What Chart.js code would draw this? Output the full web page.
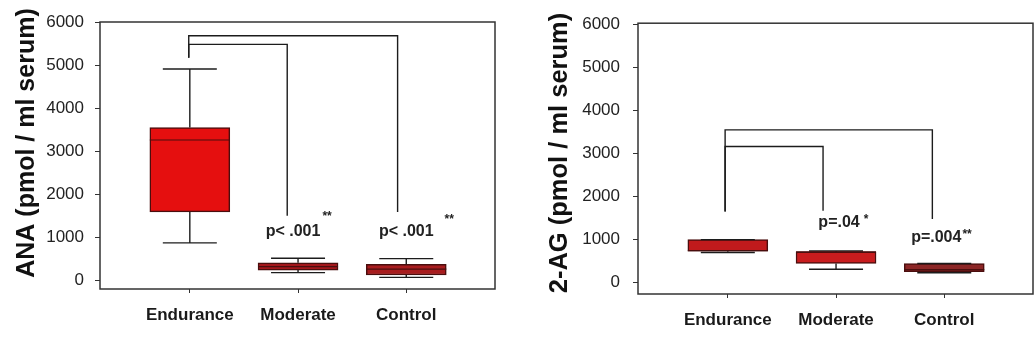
<!DOCTYPE html>
<html>
<head>
<meta charset="utf-8">
<script src="https://cdn.jsdelivr.net/npm/chart.js@4.4.1/dist/chart.umd.min.js"></script>
<style>
  html, body { margin: 0; padding: 0; background: #fff; }
  #wrap { position: relative; width: 1035px; height: 345px; }
  .panel { position: absolute; top: 0; height: 345px; }
  #left { left: 0; width: 517px; }
  #right { left: 517px; width: 518px; }
</style>
</head>
<body>
<div id="wrap">
  <div class="panel" id="left"><canvas id="anaChart"></canvas></div>
  <div class="panel" id="right"><canvas id="agChart"></canvas></div>
</div>
<script>
const groups = ["Endurance", "Moderate", "Control"];
const groupPos = [1, 2, 3];
const yTicks = [0, 1000, 2000, 3000, 4000, 5000, 6000];

// ANA (pmol / ml serum)
const anaLow = [870, 180, 70];
const anaQ1 = [1590, 240, 125];
const anaMedian = [3260, 320, 260];
const anaQ3 = [3550, 410, 375];
const anaHigh = [4910, 515, 505];
const anaPValues = ["", "p< .001", "p< .001"];
const anaStars = ["", "**", "**"];
// comparison brackets (Endurance vs Control, Endurance vs Moderate)
const anaBracketTop = [5680, 5480];
const anaBracketTo = [2.92, 1.9];
const anaBracketEnd = [1590, 1500];
const anaBracketFrom = 0.99;
const anaBracketStart = 5170;

// 2-AG (pmol / ml serum)
const agLow = [700, 310, 230];
const agQ1 = [730, 445, 255];
const agMedian = [740, 715, 300];
const agQ3 = [1000, 715, 445];
const agHigh = [1000, 735, 445];
const agPValues = ["", "p=.04", "p=.004"];
const agStars = ["", "*", "**"];
const agBracketTop = [3550, 3165];
const agBracketTo = [2.89, 1.88];
const agBracketEnd = [1480, 1670];
const agBracketFrom = 0.975;
const agBracketStart = 1650;

Chart.defaults.font.family = "'Liberation Sans', Arial, sans-serif";
Chart.defaults.color = "#222";

function seg(ctx, x1, y1, x2, y2) {
  ctx.beginPath();
  ctx.moveTo(x1, y1);
  ctx.lineTo(x2, y2);
  ctx.stroke();
}

// whiskers, medians, frame, axis title and p-value labels
function makeExtras(cfg) {
  return {
    id: "boxExtras",
    afterDatasetsDraw(chart) {
      const { ctx, chartArea: a, scales: { x, y } } = chart;
      ctx.save();
      ctx.strokeStyle = "#1c1c1c";
      ctx.lineWidth = 1.4;
      groupPos.forEach((g, i) => {
        const px = x.getPixelForValue(g);
        const lo = y.getPixelForValue(cfg.low[i]);
        const hi = y.getPixelForValue(cfg.high[i]);
        const q1 = y.getPixelForValue(cfg.q1[i]);
        const q3 = y.getPixelForValue(cfg.q3[i]);
        const md = y.getPixelForValue(cfg.median[i]);
        seg(ctx, px, q1, px, lo);
        seg(ctx, px - 27, lo, px + 27, lo);
        seg(ctx, px, q3, px, hi);
        seg(ctx, px - 27, hi, px + 27, hi);
        ctx.strokeStyle = "#4a0e0e";
        ctx.lineWidth = 1.2;
        seg(ctx, px - 40, md, px + 40, md);
        ctx.strokeStyle = "#1c1c1c";
        ctx.lineWidth = 1.4;
      });

      // frame
      ctx.strokeStyle = "#333";
      ctx.lineWidth = 1.5;
      ctx.strokeRect(a.left, a.top, a.right - a.left, a.bottom - a.top);

      // p values
      ctx.fillStyle = "#222";
      ctx.textBaseline = "middle";
      const zero = y.getPixelForValue(0);
      cfg.pValues.forEach((t, i) => {
        if (!t) return;
        const off = cfg.labelOff[i];
        const cx = x.getPixelForValue(groupPos[i]) + off[0];
        const cy = zero + off[1];
        ctx.font = "bold 16px 'Liberation Sans', Arial, sans-serif";
        ctx.textAlign = "center";
        ctx.fillText(t, cx, cy);
        const w = ctx.measureText(t).width;
        ctx.font = "bold 12px 'Liberation Sans', Arial, sans-serif";
        ctx.textAlign = "left";
        ctx.fillText(cfg.stars[i], cx + w / 2 + off[2], cy + off[3]);
      });

      // y axis title
      ctx.font = "bold " + cfg.titleSize + "px 'Liberation Sans', Arial, sans-serif";
      ctx.fillStyle = "#111";
      ctx.textAlign = "center";
      ctx.translate(cfg.titleX, cfg.titleY);
      ctx.rotate(-Math.PI / 2);
      ctx.fillText(cfg.title, 0, 0);
      ctx.restore();
    }
  };
}

function bracketSets(top, to, end, from, start) {
  return top.map((t, i) => ({
    type: "line",
    data: [{ x: from, y: start }, { x: from, y: t }, { x: to[i], y: t }, { x: to[i], y: end[i] }],
    borderColor: "#1c1c1c",
    borderWidth: 1.4,
    pointRadius: 0,
    fill: false,
    tension: 0,
    order: 0
  }));
}

function makeChart(id, cfg) {
  return new Chart(document.getElementById(id), {
    type: "bar",
    data: {
      datasets: [
        {
          type: "bar",
          data: groupPos.map((g, i) => ({ x: g, y: [cfg.q1[i], cfg.q3[i]] })),
          backgroundColor: cfg.colors,
          borderColor: "#4a0e0e",
          borderWidth: 1.5,
          borderSkipped: false,
          barThickness: 80,
          order: 2
        },
        ...bracketSets(cfg.bTop, cfg.bTo, cfg.bEnd, cfg.bFrom, cfg.bStart)
      ]
    },
    options: {
      responsive: true,
      maintainAspectRatio: false,
      animation: false,
      layout: { padding: cfg.padding },
      plugins: { legend: { display: false }, tooltip: { enabled: false } },
      scales: {
        x: {
          type: "linear",
          min: 0.17,
          max: 3.82,
          offset: false,
          afterFit: s => { s.height = cfg.xHeight; },
          afterBuildTicks: s => { s.ticks = groupPos.map(v => ({ value: v })); },
          ticks: {
            autoSkip: false,
            maxRotation: 0,
            padding: 12,
            color: "#1a1a1a",
            font: { size: 17, weight: "bold" },
            callback: (v, i) => groups[i]
          },
          grid: { display: true, drawOnChartArea: false, tickLength: 4, color: "#333", offset: false },
          border: { display: false }
        },
        y: {
          min: cfg.yMin,
          max: cfg.yMax,
          afterFit: s => { s.width = cfg.yWidth; },
          afterBuildTicks: s => { s.ticks = yTicks.map(v => ({ value: v })); },
          ticks: { padding: cfg.tickPad, color: "#222", font: { size: 17 }, callback: v => String(v) },
          grid: { display: true, drawOnChartArea: false, tickLength: 5, color: "#333" },
          border: { display: false }
        }
      }
    },
    plugins: [makeExtras(cfg)]
  });
}

makeChart("anaChart", {
  low: anaLow, q1: anaQ1, median: anaMedian, q3: anaQ3, high: anaHigh,
  pValues: anaPValues, stars: anaStars,
  labelOff: [null, [-5, -49, 2, -15], [0, -49, 11, -12]],
  bTop: anaBracketTop, bTo: anaBracketTo, bEnd: anaBracketEnd, bFrom: anaBracketFrom, bStart: anaBracketStart,
  colors: ["#e50f0f", "#a3161b", "#a81c1e"],
  yMin: -200, yMax: 6000,
  padding: { top: 22, right: 22, left: 0, bottom: 0 },
  yWidth: 100, xHeight: 56, tickPad: 11,
  title: "ANA (pmol / ml serum)", titleSize: 25, titleX: 27, titleY: 143
});

makeChart("agChart", {
  low: agLow, q1: agQ1, median: agMedian, q3: agQ3, high: agHigh,
  pValues: agPValues, stars: agStars,
  labelOff: [null, [3, -60, 4, -3], [-8, -45, 1, -3]],
  bTop: agBracketTop, bTo: agBracketTo, bEnd: agBracketEnd, bFrom: agBracketFrom, bStart: agBracketStart,
  colors: ["#c01a1c", "#c81c1e", "#8c2626"],
  yMin: -265, yMax: 6030,
  padding: { top: 20, right: 2, left: 0, bottom: 0 },
  yWidth: 121, xHeight: 51, tickPad: 13,
  title: "2-AG (pmol / ml serum)", titleSize: 25.5, titleX: 43, titleY: 153
});
</script>
</body>
</html>
